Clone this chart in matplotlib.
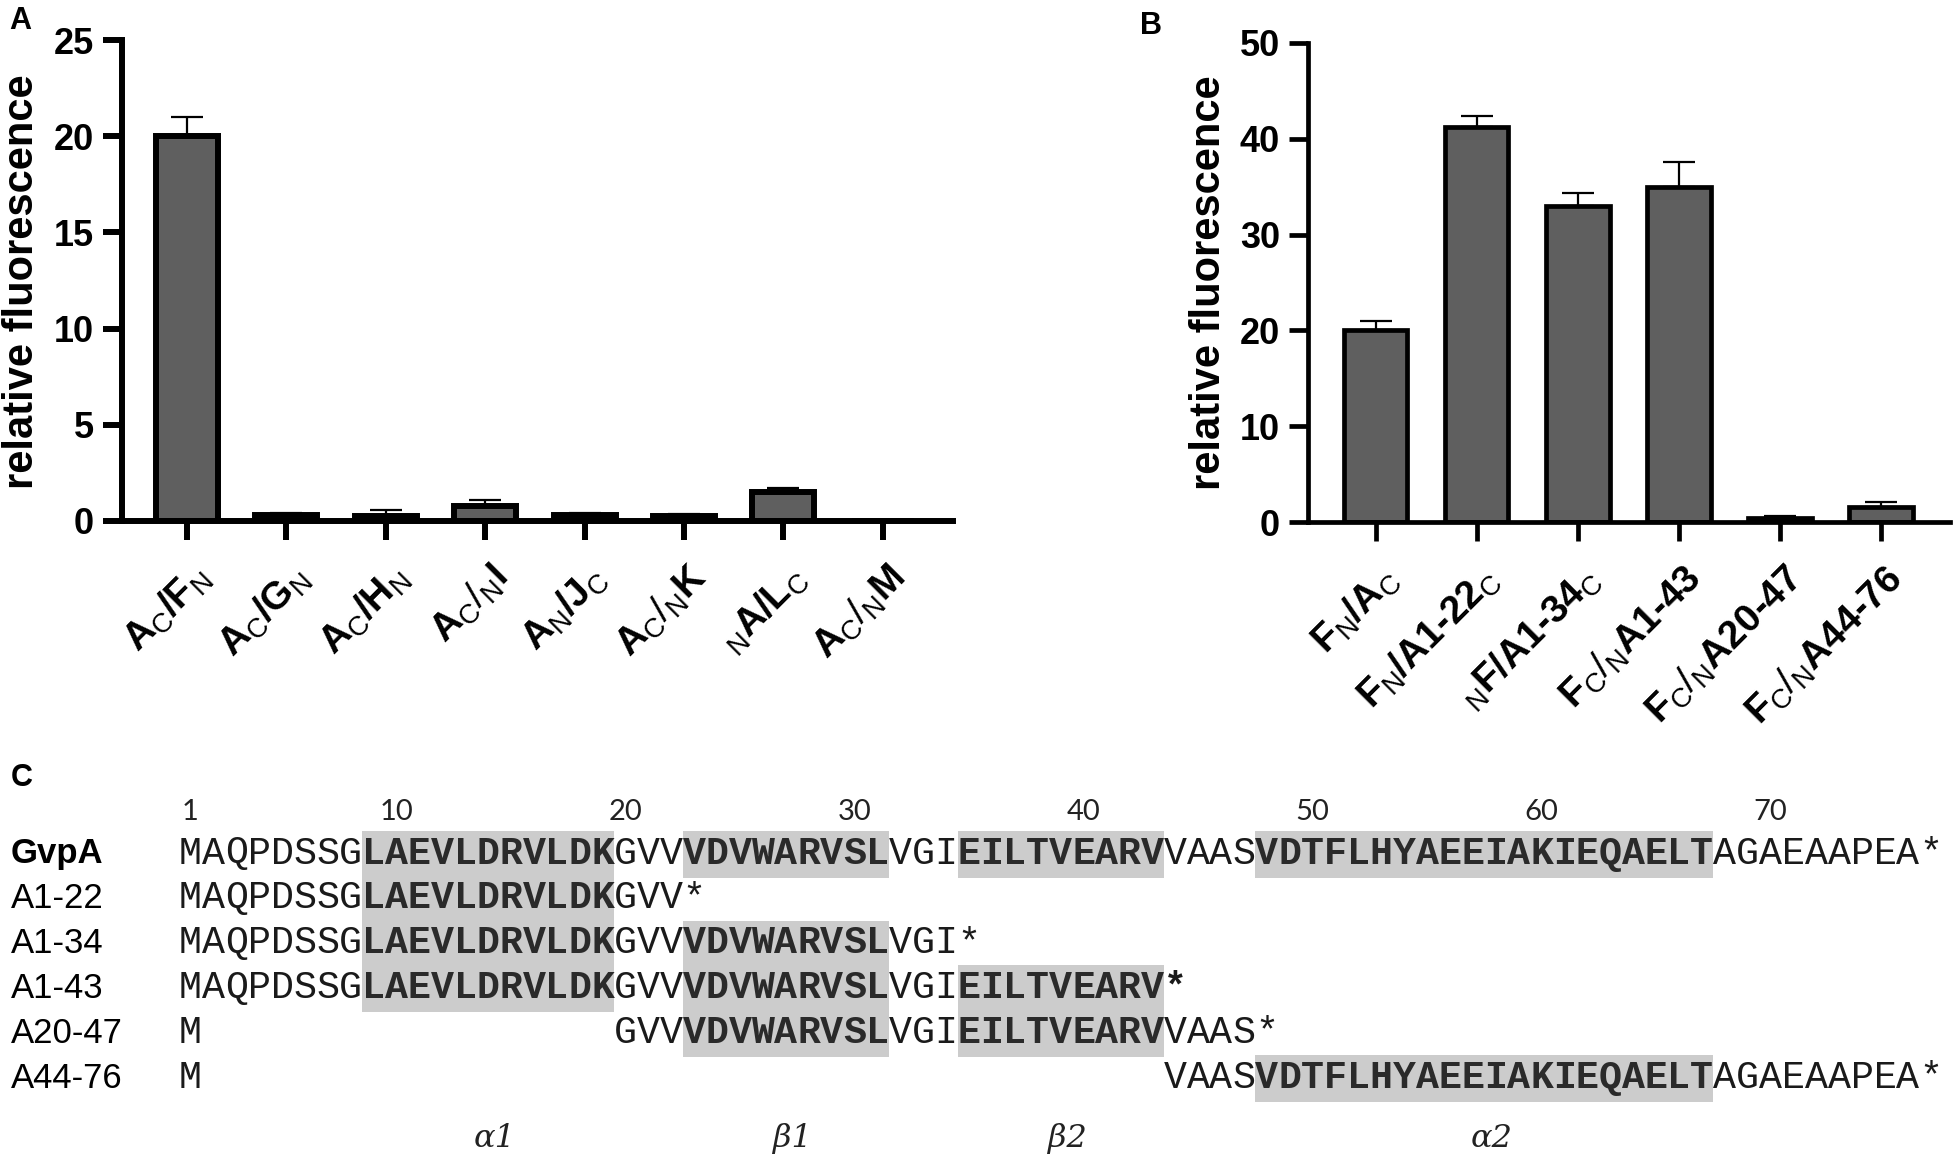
import matplotlib
matplotlib.use("Agg")
import matplotlib.pyplot as plt
from matplotlib.patches import Rectangle
from matplotlib.transforms import ScaledTranslation

# ---------------- data ----------------
cats_a = [r"$\mathbf{A}_{\mathrm{C}}\mathbf{/F}_{\mathrm{N}}$",
          r"$\mathbf{A}_{\mathrm{C}}\mathbf{/G}_{\mathrm{N}}$",
          r"$\mathbf{A}_{\mathrm{C}}\mathbf{/H}_{\mathrm{N}}$",
          r"$\mathbf{A}_{\mathrm{C}}\mathrm{/}_{\mathrm{N}}\mathbf{I}$",
          r"$\mathbf{A}_{\mathrm{N}}\mathbf{/J}_{\mathrm{C}}$",
          r"$\mathbf{A}_{\mathrm{C}}\mathrm{/}_{\mathrm{N}}\mathbf{K}$",
          r"${}_{\mathrm{N}}\mathbf{A/L}_{\mathrm{C}}$",
          r"$\mathbf{A}_{\mathrm{C}}\mathrm{/}_{\mathrm{N}}\mathbf{M}$"]
vals_a = [20.0, 0.3, 0.25, 0.8, 0.3, 0.25, 1.5, 0.0]
errs_a = [1.0, 0.1, 0.3, 0.3, 0.1, 0.1, 0.2, 0.0]
yticks_a = [0, 5, 10, 15, 20, 25]

cats_b = [r"$\mathbf{F}_{\mathrm{N}}\mathbf{/A}_{\mathrm{C}}$",
          "$\\mathbf{F}_{\\mathrm{N}}\\mathbf{/A1\u201022}_{\\mathrm{C}}$",
          "${}_{\\mathrm{N}}\\mathbf{F/A1\u201034}_{\\mathrm{C}}$",
          "$\\mathbf{F}_{\\mathrm{C}}\\mathrm{/}_{\\mathrm{N}}\\mathbf{A1\u201043}$",
          "$\\mathbf{F}_{\\mathrm{C}}\\mathrm{/}_{\\mathrm{N}}\\mathbf{A20\u201047}$",
          "$\\mathbf{F}_{\\mathrm{C}}\\mathrm{/}_{\\mathrm{N}}\\mathbf{A44\u201076}$"]
vals_b = [20.0, 41.2, 33.0, 35.0, 0.4, 1.6]
errs_b = [1.0, 1.2, 1.3, 2.6, 0.2, 0.5]
yticks_b = [0, 10, 20, 30, 40, 50]

ylabel = "relative fluorescence"

seq_names = ["GvpA", "A1-22", "A1-34", "A1-43", "A20-47", "A44-76"]
gvpa_seq = "MAQPDSSGLAEVLDRVLDKGVVVDVWARVSLVGIEILTVEARVVAASVDTFLHYAEEIAKIEQAELTAGAEAAPEA"
construct_start = [1, 1, 1, 1, 20, 44]
construct_end = [76, 22, 34, 43, 47, 76]
bold_stop = [False, False, False, True, False, False]
element_names = ["α1", "β1", "β2", "α2"]
element_start = [9, 23, 35, 48]
element_end = [19, 31, 43, 67]
ruler = [1, 10, 20, 30, 40, 50, 60, 70]

# ---------------- style ----------------
plt.rcParams["font.family"] = ["Liberation Sans", "DejaVu Sans"]
plt.rcParams["mathtext.fontset"] = "custom"
plt.rcParams["mathtext.rm"] = "Liberation Sans"
plt.rcParams["mathtext.bf"] = "Liberation Sans:bold"
plt.rcParams["mathtext.it"] = "Liberation Sans:italic"

W, H = 1955, 1157
fig = plt.figure(figsize=(W / 100, H / 100), dpi=100)

BAR = "#5f5f5f"


def px_axes(l, t, r, b):
    return fig.add_axes([l / W, 1 - b / H, (r - l) / W, (b - t) / H])


def bar_panel(ax, cats, vals, errs, yticks, lw, xl, xr):
    x = list(range(len(cats)))
    ax.bar(x, vals, width=0.624, color=BAR, edgecolor="black", linewidth=lw, zorder=2)
    ax.errorbar(x, vals, yerr=[[0] * len(errs), errs], fmt="none", ecolor="black",
                elinewidth=1.6, capsize=11.5, capthick=1.6, zorder=3)
    ax.set_xlim(xl, xr)
    ax.set_ylim(yticks[0], yticks[-1])
    ax.set_yticks(yticks)
    ax.set_xticks(x)
    ax.set_xticklabels(cats, rotation=45, ha="right", va="center",
                       rotation_mode="anchor", fontsize=28)
    for s in ("top", "right"):
        ax.spines[s].set_visible(False)
    for s in ("left", "bottom"):
        ax.spines[s].set_linewidth(lw)
        ax.spines[s].set_capstyle("projecting")
    ax.tick_params(axis="both", width=lw, length=14, color="black")
    ax.tick_params(axis="x", pad=14)
    ax.tick_params(axis="y", pad=6)
    shift = ScaledTranslation(12 / 72, -9 / 72, fig.dpi_scale_trans)
    for t in ax.get_xticklabels():
        t.set_transform(t.get_transform() + shift)
    for t in ax.get_yticklabels():
        t.set_fontfamily(["Liberation Sans Narrow", "Liberation Sans"])
        t.set_fontweight("bold")
        t.set_fontsize(26)
    ax.patch.set_alpha(0)


# Panel A
axA = px_axes(122, 40, 953, 521)
bar_panel(axA, cats_a, vals_a, errs_a, yticks_a, 4.3, -0.654, 7.706)
fig.text(22 / W, 1 - 282 / H, ylabel, rotation=90, ha="center", va="center",
         fontsize=30, fontweight="bold")
fig.text(9 / W, 1 - 6 / H, "A", ha="left", va="top", fontsize=22, fontweight="bold")

# Panel B
axB = px_axes(1308, 43, 1950, 522)
bar_panel(axB, cats_b, vals_b, errs_b, yticks_b, 3.4, -0.673, 5.683)
fig.text(1209 / W, 1 - 283 / H, ylabel, rotation=90, ha="center", va="center",
         fontsize=30, fontweight="bold")
fig.text(1140 / W, 1 - 11 / H, "B", ha="left", va="top", fontsize=22, fontweight="bold")

# Panel C : alignment
CW = 22.9   # px per residue
X0 = 179    # px of residue 1 left edge
RS = 44.8   # px per row
Y0 = 853    # px of first row centre
top_px, bot_px = 745, H
axC = px_axes(0, top_px, W, bot_px)
axC.set_xlim((0 - X0) / CW, (W - X0) / CW)
axC.set_ylim((bot_px - Y0) / RS, (top_px - Y0) / RS)
axC.axis("off")

base_off = 10.5 / RS
mono = "Liberation Mono"
for r, name in enumerate(seq_names):
    s, e = construct_start[r], construct_end[r]
    for es, ee in zip(element_start, element_end):
        if es >= s and ee <= e:
            axC.add_patch(Rectangle((es - 1, r - 22 / RS), ee - es + 1, 47 / RS,
                                    facecolor="#cccccc", edgecolor="none", zorder=1))
    axC.text((11 - X0) / CW, r + base_off, name, ha="left", va="baseline",
             fontsize=25, fontweight="bold" if r == 0 else "normal", zorder=3)
    residues = list(range(s, e + 1))
    if s > 1:
        residues = [1] + residues
    for k in residues:
        bold = any(es <= k <= ee for es, ee in zip(element_start, element_end))
        axC.text(k - 0.5, r + base_off, gvpa_seq[k - 1], ha="center", va="baseline",
                 family=mono, fontsize=27.5, fontweight="bold" if bold else "normal",
                 color="#2a2a2a" if bold else "#1a1a1a", zorder=3)
    axC.text(e + 0.5, r + base_off, "*", ha="center", va="baseline", family=mono,
             fontsize=27.5, fontweight="bold" if bold_stop[r] else "normal",
             color="#1a1a1a", zorder=3)

for n in ruler:
    axC.text(n - 0.5, (820 - Y0) / RS, str(n), ha="center", va="baseline",
             fontsize=21, family=["Lato", "DejaVu Sans"], color="#222222")

for nm, es, ee in zip(element_names, element_start, element_end):
    axC.text((es + ee) / 2 - 0.5 + 0.3, (1147 - Y0) / RS, nm, ha="center", va="baseline",
             fontsize=23, family="DejaVu Serif", style="italic", color="#222222")

fig.text(11 / W, 1 - 786 / H, "C", ha="left", va="baseline", fontsize=22, fontweight="bold")

fig.savefig("out.png", dpi=100)
